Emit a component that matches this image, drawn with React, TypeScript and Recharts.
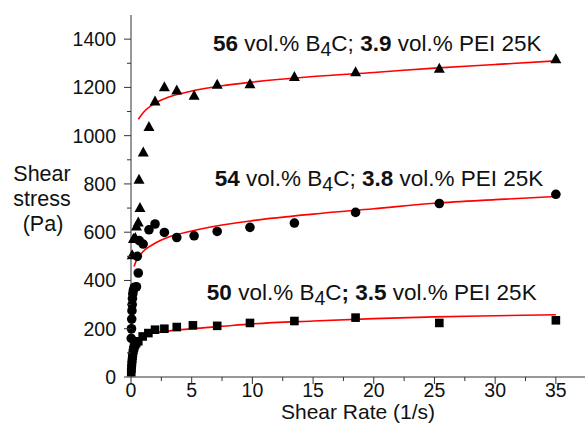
import { ScatterChart, Scatter, XAxis, YAxis, ReferenceDot } from "recharts";

// measured points, 56 vol.% B4C (triangles)
const rate56 = [0.1, 0.2, 0.35, 0.45, 0.6, 0.74, 0.66, 1.01, 1.48, 1.98, 2.75, 3.77, 5.2, 7.1, 9.8, 13.46, 18.5, 25.4, 35];
const stress56 = [505, 572, 576, 624, 640, 700, 817, 930, 1036, 1142, 1201, 1187, 1165, 1211, 1213, 1243, 1263, 1277, 1317];

// 54 vol.% B4C (circles)
const rate54 = [0.02, 0.04, 0.06, 0.08, 0.1, 0.12, 0.15, 0.2, 0.28, 0.45, 0.52, 0.6, 0.68, 1.0, 1.48, 1.98, 2.75, 3.77, 5.2, 7.1, 9.8, 13.46, 18.5, 25.4, 35];
const stress54 = [160, 200, 240, 275, 300, 325, 345, 360, 372, 374, 500, 431, 565, 551, 610, 634, 599, 578, 585, 603, 620, 638, 682, 719, 757];

// 50 vol.% B4C (squares)
const rate50 = [0.02, 0.04, 0.06, 0.08, 0.1, 0.13, 0.16, 0.2, 0.25, 0.32, 0.42, 0.6, 0.96, 1.43, 1.98, 2.75, 3.77, 5.1, 7.1, 9.8, 13.46, 18.5, 25.4, 35];
const stress50 = [20, 35, 50, 62, 75, 88, 100, 112, 122, 132, 140, 148, 168, 182, 196, 200, 207, 214, 212, 224, 232, 246, 224, 235];

// red fit curves
const fitRate56 = [0.6, 1, 2, 3, 5, 7.5, 10, 15, 20, 25, 30, 35];
const fitStress56 = [1068, 1095, 1135, 1158, 1185, 1207, 1222, 1245, 1262, 1280, 1295, 1310];
const fitRate54 = [0.25, 0.4, 0.7, 1, 1.5, 2, 3, 5, 7.5, 10, 15, 20, 25, 30, 35];
const fitStress54 = [458, 478, 502, 520, 540, 555, 578, 605, 630, 648, 675, 697, 720, 735, 748];
const fitRate50 = [0.45, 0.7, 1, 1.5, 2, 3, 5, 7.5, 10, 15, 20, 25, 30, 35];
const fitStress50 = [152, 162, 170, 178, 183, 190, 200, 210, 220, 232, 242, 249, 254, 258];

const xTicks = [0, 2.5, 5, 7.5, 10, 12.5, 15, 17.5, 20, 22.5, 25, 27.5, 30, 32.5, 35];
const yTicks = [0, 100, 200, 300, 400, 500, 600, 700, 800, 900, 1000, 1100, 1200, 1300, 1400];

const zip = (xs: number[], ys: number[]) => xs.map((x, i) => ({ x, y: ys[i] }));

const FONT = "'Liberation Sans', Arial, sans-serif";
const INK = "#111";
const AXIS = "#333";
const RED = "#ff0000";

const Triangle = (p: any) => (
  <polygon
    points={`${p.cx},${p.cy - 6} ${p.cx - 5.5},${p.cy + 4} ${p.cx + 5.5},${p.cy + 4}`}
    fill="#000"
  />
);
const Dot = (p: any) => <circle cx={p.cx} cy={p.cy} r={4.8} fill="#000" />;
const Square = (p: any) => <rect x={p.cx - 4.3} y={p.cy - 4.3} width={8.6} height={8.6} fill="#000" />;
const NoMark = () => <g />;

const XTick = (props: any) => {
  const { x, y, payload } = props;
  const major = payload.value % 5 === 0;
  return (
    <g>
      <line x1={x} x2={x} y1={y} y2={y + (major ? 7 : 4)} stroke={AXIS} />
      {major && (
        <text x={x} y={y + 20} textAnchor="middle" fontSize={19.5} fill={INK} fontFamily={FONT}>
          {payload.value}
        </text>
      )}
    </g>
  );
};

const YTick = (props: any) => {
  const { x, y, payload } = props;
  const major = payload.value % 200 === 0;
  return (
    <g>
      <line x1={x - (major ? 7 : 4)} x2={x} y1={y} y2={y} stroke={AXIS} />
      {major && (
        <text x={x - 15} y={y + 7} textAnchor="end" fontSize={19.5} fill={INK} fontFamily={FONT}>
          {payload.value}
        </text>
      )}
    </g>
  );
};

const note = (lead: string, peg: string, boldSemi: boolean) => (props: any) => {
  const { viewBox } = props;
  return (
    <text x={viewBox.x} y={viewBox.y} fontSize={22.5} fill={INK} fontFamily={FONT} style={{ whiteSpace: "pre" }}>
      <tspan fontWeight="bold">{lead}</tspan>
      <tspan> vol.% B</tspan>
      <tspan fontSize={19.5} dy={5}>4</tspan>
      <tspan dy={-5}>C</tspan>
      <tspan fontWeight={boldSemi ? "bold" : "normal"}>; </tspan>
      <tspan fontWeight="bold">{peg}</tspan>
      <tspan> vol.% PEI 25K</tspan>
    </text>
  );
};

export default function App() {
  return (
    <div style={{ position: "absolute", left: 0, top: 0, background: "#fff" }}>
      <ScatterChart width={585} height={433} margin={{ top: 15, right: 0, bottom: 0, left: 0 }}>
        <XAxis
          type="number"
          dataKey="x"
          domain={[0, 37.4]}
          ticks={xTicks}
          interval={0}
          tickSize={0}
          tickMargin={0}
          tickLine={false}
          tick={<XTick />}
          axisLine={{ stroke: AXIS }}
          height={56}
          label={{
            content: (p: any) => (
              <text
                x={p.viewBox.x + p.viewBox.width / 2}
                y={p.viewBox.y + 42}
                textAnchor="middle"
                fontSize={21}
                fill={INK}
                fontFamily={FONT}
              >
                Shear Rate (1/s)
              </text>
            ),
          }}
        />
        <YAxis
          type="number"
          dataKey="y"
          domain={[0, 1500]}
          ticks={yTicks}
          interval={0}
          tickSize={0}
          tickMargin={0}
          tickLine={false}
          tick={<YTick />}
          axisLine={{ stroke: AXIS }}
          width={131}
          label={{
            content: () => (
              <text textAnchor="middle" fontSize={21.5} fill={INK} fontFamily={FONT}>
                <tspan x={42} y={181}>Shear</tspan>
                <tspan x={42} y={206}>stress</tspan>
                <tspan x={43} y={231}>(Pa)</tspan>
              </text>
            ),
          }}
        />
        <Scatter data={zip(fitRate50, fitStress50)} fill={RED} line={{ stroke: RED, strokeWidth: 1.6 }} lineJointType="monotoneX" shape={NoMark} isAnimationActive={false} />
        <Scatter data={zip(fitRate54, fitStress54)} fill={RED} line={{ stroke: RED, strokeWidth: 1.6 }} lineJointType="monotoneX" shape={NoMark} isAnimationActive={false} />
        <Scatter data={zip(fitRate56, fitStress56)} fill={RED} line={{ stroke: RED, strokeWidth: 1.6 }} lineJointType="monotoneX" shape={NoMark} isAnimationActive={false} />
        <Scatter data={zip(rate50, stress50)} shape={Square} isAnimationActive={false} />
        <Scatter data={zip(rate54, stress54)} shape={Dot} isAnimationActive={false} />
        <Scatter data={zip(rate56, stress56)} shape={Triangle} isAnimationActive={false} />
        <ReferenceDot x={6.75} y={1349} r={0} stroke="none" fill="none" label={{ content: note("56", "3.9", false) }} />
        <ReferenceDot x={6.9} y={792} r={0} stroke="none" fill="none" label={{ content: note("54", "3.8", false) }} />
        <ReferenceDot x={6.25} y={320} r={0} stroke="none" fill="none" label={{ content: note("50", "3.5", true) }} />
      </ScatterChart>
    </div>
  );
}
